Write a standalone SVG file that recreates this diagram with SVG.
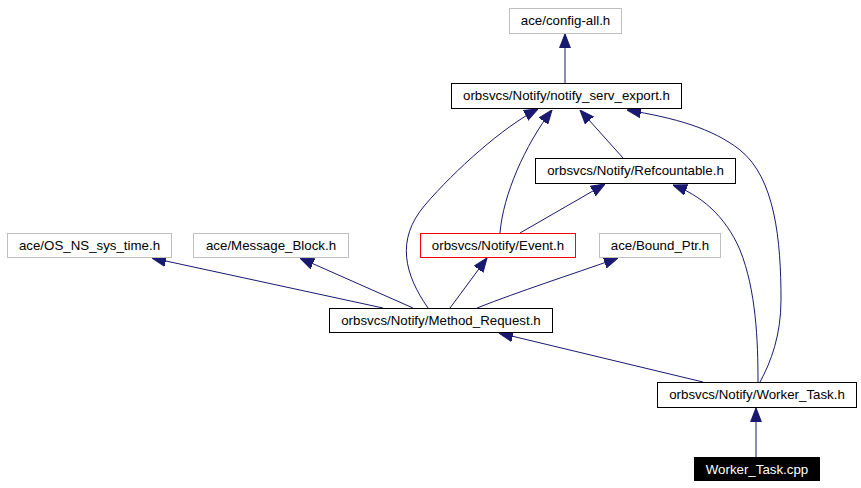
<svg xmlns="http://www.w3.org/2000/svg" width="861" height="488" viewBox="0 0 861 488">
<style>
.n rect{fill:#fff;stroke:#000;stroke-width:1}
.n.ext rect{stroke:#bfbfbf}
.n.cur rect{fill:#000;stroke:#000}
text{font-family:"Liberation Sans",Arial,sans-serif;font-size:13.3px;text-anchor:middle;fill:#000}
.n.cur text{fill:#fff}
#edges path{fill:none;stroke:#191970;stroke-width:1;marker-end:url(#ah)}
</style>
<defs>
<marker id="ah" markerUnits="userSpaceOnUse" markerWidth="14" markerHeight="12" viewBox="0 0 13 10" refX="13" refY="5" orient="auto">
<path d="M0,0 L13,5 L0,10 z" fill="#191970" stroke="#191970" stroke-width="1"/>
</marker>
</defs>
<rect width="861" height="488" fill="#fff"/>
<g id="edges">
<path d="M565,83 L565,34"/>
<path d="M623,158 L580,110"/>
<path d="M500,233 C503,195 525,145 552,110"/>
<path d="M428,308 C405,275 395,240 425,205 C455,170 503,127 538,109"/>
<path d="M760,382 C771,362 781,335 781,300 C781,240 775,178 740,150 C712,128 675,118 627,110"/>
<path d="M520,233 L605,184"/>
<path d="M758,382 C758,340 756,290 740,250 C725,215 700,195 673,185"/>
<path d="M383,308 L152,258"/>
<path d="M413,308 L300,258"/>
<path d="M450,308 L487,258"/>
<path d="M477,308 C520,291 570,275 618,258"/>
<path d="M703,382 L499,333"/>
<path d="M756,457 L756,408"/>
</g>
<g id="config_all" class="n ext"><rect x="509.5" y="8.5" width="112" height="25"/><text x="565.5" y="25">ace/config-all.h</text></g>
<g id="notify_serv_export" class="n"><rect x="451.5" y="83.5" width="230" height="25"/><text x="566.5" y="100">orbsvcs/Notify/notify_serv_export.h</text></g>
<g id="refcountable" class="n"><rect x="535.5" y="158.5" width="200" height="25"/><text x="635.5" y="175">orbsvcs/Notify/Refcountable.h</text></g>
<g id="os_ns_sys_time" class="n ext"><rect x="7.5" y="233.5" width="164" height="24"/><text x="89.5" y="249.5">ace/OS_NS_sys_time.h</text></g>
<g id="message_block" class="n ext"><rect x="193.5" y="233.5" width="155" height="24"/><text x="271" y="249.5">ace/Message_Block.h</text></g>
<g id="event" class="n"><rect x="420.5" y="233.5" width="155" height="24" style="stroke:#ff0000"/><text x="498" y="249.5">orbsvcs/Notify/Event.h</text></g>
<g id="bound_ptr" class="n ext"><rect x="599.5" y="233.5" width="121" height="24"/><text x="660" y="249.5">ace/Bound_Ptr.h</text></g>
<g id="method_request" class="n"><rect x="329.5" y="308.5" width="223" height="24"/><text x="441" y="324.5">orbsvcs/Notify/Method_Request.h</text></g>
<g id="worker_task_h" class="n"><rect x="657.5" y="382.5" width="199" height="25"/><text x="757" y="399">orbsvcs/Notify/Worker_Task.h</text></g>
<g id="worker_task_cpp" class="n cur"><rect x="694.5" y="457.5" width="125" height="23"/><text x="757" y="473.5">Worker_Task.cpp</text></g>
</svg>
